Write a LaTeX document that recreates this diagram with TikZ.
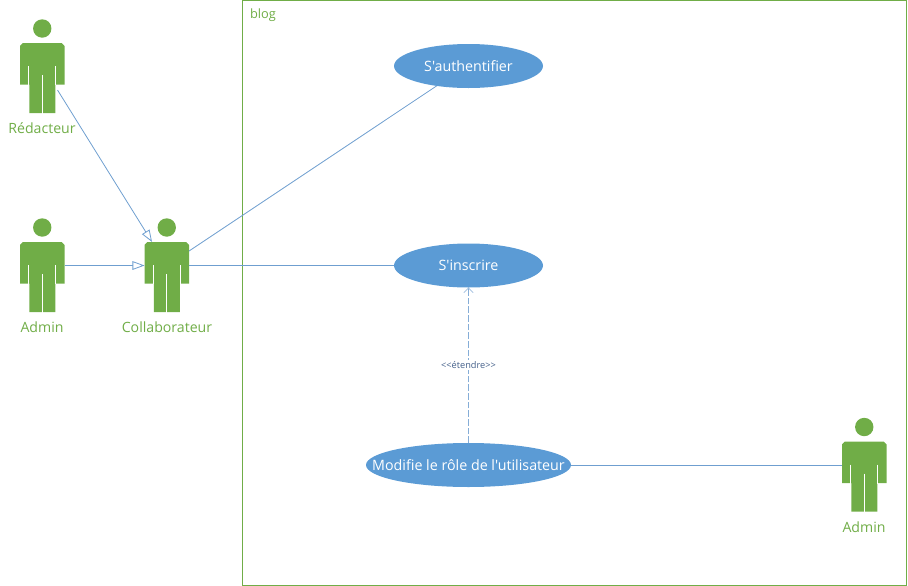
\documentclass[tikz,border=0pt]{standalone}
\usepackage{fontspec}
\newfontfamily\diagfont{Open Sans}
\usetikzlibrary{arrows.meta}
\definecolor{actorgreen}{HTML}{70AD47}
\definecolor{caseblue}{HTML}{5B9BD5}
\definecolor{linkblue}{HTML}{6F9FD0}
\definecolor{stereoblue}{HTML}{44608A}
\tikzset{
    actorbody/.style={minimum width=33.4pt,minimum height=35.25pt,inner sep=0pt,outer sep=0pt},
    actorname/.style={text=actorgreen,font=\diagfont\fontsize{10.6pt}{12pt}\selectfont,inner sep=0pt},
    usecase/.style={ellipse,fill=caseblue,text=white,inner sep=0pt,outer sep=0pt,minimum height=33pt,font=\diagfont\fontsize{10.7pt}{12pt}\selectfont},
    link/.style={draw=linkblue,line width=0.6pt},
    generalize/.style={link,-{Triangle[open,length=9pt,width=6.5pt,fill=white]}},
    extendlink/.style={draw=linkblue!85,line width=0.5pt,dashed,dash pattern=on 5pt off 1.5pt,-{Straight Barb[length=3.5pt,width=7pt]}},
    stereo/.style={text=stereoblue,fill=white,inner sep=1pt,font=\diagfont\fontsize{6.9pt}{8pt}\selectfont},
    actorfig/.pic={
        \fill[actorgreen] (0,-38) circle (6.9pt);
        \fill[actorgreen] (-19.5,-23.5) -- (19.5,-23.5) -- (22.25,-20.5) -- (22.25,18) -- (13,18) -- (13,46.5)
            -- (-13,46.5) -- (-13,18) -- (-22.25,18) -- (-22.25,-20.5) -- cycle;
        \draw[white,line width=0.7pt] (-13.6,-0.5) -- (-13.6,18.5) (13.6,-0.5) -- (13.6,18.5) (0,8.5) -- (0,47);
    }
}
\usetikzlibrary{shapes.geometric}
\begin{document}
\begin{tikzpicture}[x=0.75pt,y=-0.75pt]
    \useasboundingbox (0,0) rectangle (908,586);
    % system frame
    \node[draw=actorgreen,line width=0.8pt,minimum width=498.2pt,minimum height=438.4pt,inner sep=0pt,outer sep=0pt] (blog) at (574.6,293) {};
    \node[actorname,font=\diagfont\fontsize{9.6pt}{10pt}\selectfont] (blogname) at (263,15.5) {blog};
    % actors
    \node[actorbody] (redacteur) at (42.25,66.5) {};
    \node[actorbody] (admingauche) at (42.25,265.5) {};
    \node[actorbody] (collab) at (166.75,265.5) {};
    \node[actorbody] (admindroite) at (864.25,465) {};
    \pic at (redacteur) {actorfig};
    \pic at (admingauche) {actorfig};
    \pic at (collab) {actorfig};
    \pic at (admindroite) {actorfig};
    \node[actorname] (redacteurname) at (42,128) {Rédacteur};
    \node[actorname] (admingauchename) at (42,327) {Admin};
    \node[actorname] (collabname) at (167,327) {Collaborateur};
    \node[actorname] (admindroitename) at (864,527) {Admin};
    % use cases
    \node[usecase,minimum width=111.75pt] (auth) at (468.5,66) {\makebox[0pt]{S'authentifier}};
    \node[usecase,minimum width=111.75pt] (inscrire) at (468.5,265.5) {\makebox[0pt]{S'inscrire}};
    \node[usecase,minimum width=153.75pt] (modifie) at (468.5,465) {\makebox[0pt]{Modifie le rôle de l'utilisateur}};
    % connectors
    \draw[generalize] (redacteur.-57) -- (collab.122);
    \draw[generalize] (admingauche.east) -- (collab.west);
    \draw[link] (collab.33) -- (auth.212);
    \draw[link] (collab.east) -- (inscrire.west);
    \draw[link] (modifie.east) -- (admindroite.west);
    \draw[extendlink] (modifie.north) -- (inscrire.south) node[midway,stereo] (etendre) {<<étendre>>};
\end{tikzpicture}
\end{document}
